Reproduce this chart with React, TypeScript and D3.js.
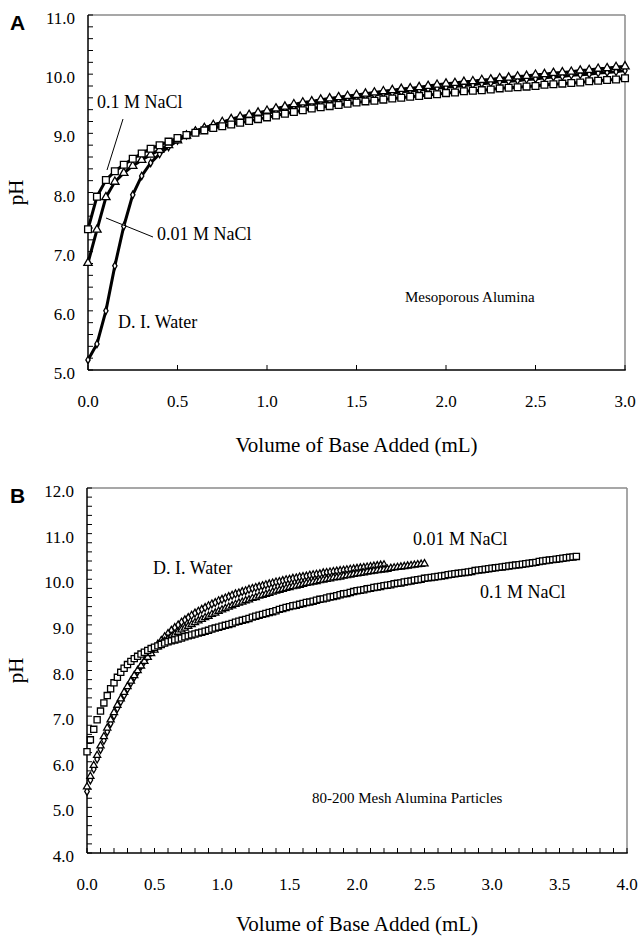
import React from 'react';
import * as d3 from 'd3';

// Panel A - mesoporous alumina, one reading every 0.05 mL
const volStepA = 0.05;
const phWaterA = [
  5.17, 5.44, 6.0, 6.76, 7.43, 7.96, 8.28, 8.5, 8.65, 8.77,
  8.88, 8.97, 9.04, 9.09, 9.14, 9.18, 9.22, 9.26, 9.29, 9.32,
  9.35, 9.38, 9.42, 9.45, 9.48, 9.5, 9.53, 9.55, 9.57, 9.59,
  9.61, 9.63, 9.65, 9.67, 9.68, 9.7, 9.72, 9.73, 9.75, 9.76,
  9.78, 9.79, 9.81, 9.82, 9.84, 9.85, 9.87, 9.88, 9.89, 9.91,
  9.92, 9.94, 9.95, 9.96, 9.98, 9.99, 10.0, 10.02, 10.03, 10.04,
  10.06,
];
const phNaCl001A = [
  6.81, 7.37, 7.92, 8.18, 8.33, 8.45, 8.55, 8.64, 8.72, 8.8,
  8.88, 8.96, 9.03, 9.09, 9.14, 9.19, 9.24, 9.28, 9.31, 9.35,
  9.38, 9.42, 9.45, 9.49, 9.52, 9.54, 9.57, 9.59, 9.61, 9.63,
  9.65, 9.67, 9.69, 9.71, 9.73, 9.75, 9.76, 9.78, 9.8, 9.82,
  9.84, 9.85, 9.87, 9.88, 9.9, 9.91, 9.93, 9.94, 9.96, 9.97,
  9.99, 10.0, 10.02, 10.03, 10.04, 10.06, 10.07, 10.09, 10.1, 10.12,
  10.13,
];
const phNaCl01A = [
  7.38, 7.93, 8.21, 8.36, 8.47, 8.57, 8.66, 8.74, 8.8, 8.86,
  8.92, 8.97, 9.01, 9.05, 9.09, 9.12, 9.15, 9.18, 9.21, 9.24,
  9.27, 9.3, 9.33, 9.36, 9.39, 9.42, 9.44, 9.46, 9.48, 9.5,
  9.52, 9.54, 9.55, 9.57, 9.59, 9.6, 9.62, 9.63, 9.65, 9.66,
  9.68, 9.69, 9.71, 9.72, 9.73, 9.74, 9.76, 9.77, 9.78, 9.79,
  9.8, 9.82, 9.83, 9.84, 9.85, 9.86, 9.88, 9.89, 9.9, 9.91,
  9.93,
];

// Panel B - 80-200 mesh particles, one reading every 0.025 mL
const volStepB = 0.025;
const phWaterB = [
  5.35, 5.6, 5.84, 6.06, 6.27, 6.47, 6.66, 6.84, 7.01, 7.17,
  7.32, 7.46, 7.6, 7.73, 7.86, 7.98, 8.1, 8.21, 8.31, 8.41,
  8.5, 8.58, 8.66, 8.74, 8.81, 8.88, 8.94, 9.0, 9.06, 9.11,
  9.16, 9.21, 9.26, 9.3, 9.34, 9.38, 9.42, 9.46, 9.49, 9.53,
  9.56, 9.59, 9.62, 9.65, 9.68, 9.7, 9.73, 9.75, 9.78, 9.8,
  9.82, 9.84, 9.86, 9.88, 9.9, 9.92, 9.94, 9.95, 9.97, 9.99,
  10.0, 10.02, 10.03, 10.05, 10.06, 10.07, 10.09, 10.1, 10.11, 10.12,
  10.14, 10.15, 10.16, 10.17, 10.18, 10.19, 10.2, 10.21, 10.22, 10.23,
  10.24, 10.25, 10.26, 10.27, 10.28, 10.29, 10.3, 10.31, 10.32,
];
const phNaCl001B = [
  5.45, 5.68, 5.92, 6.14, 6.35, 6.55, 6.74, 6.92, 7.08, 7.24,
  7.38, 7.52, 7.65, 7.77, 7.89, 8.0, 8.1, 8.2, 8.29, 8.37,
  8.45, 8.52, 8.58, 8.64, 8.69, 8.74, 8.79, 8.84, 8.89, 8.93,
  8.97, 9.01, 9.05, 9.09, 9.12, 9.16, 9.19, 9.23, 9.26, 9.3,
  9.33, 9.36, 9.39, 9.42, 9.45, 9.48, 9.5, 9.53, 9.55, 9.58,
  9.6, 9.63, 9.65, 9.67, 9.69, 9.72, 9.74, 9.76, 9.78, 9.8,
  9.82, 9.84, 9.85, 9.87, 9.89, 9.91, 9.92, 9.94, 9.95, 9.97,
  9.98, 10.0, 10.01, 10.03, 10.04, 10.05, 10.07, 10.08, 10.09, 10.11,
  10.12, 10.13, 10.14, 10.16, 10.17, 10.18, 10.19, 10.2, 10.21, 10.22,
  10.24, 10.25, 10.26, 10.27, 10.28, 10.29, 10.3, 10.31, 10.32, 10.33,
  10.34,
];
const phNaCl01B = [
  6.22, 6.48, 6.71, 6.92, 7.11, 7.29, 7.45, 7.6, 7.73, 7.85,
  7.96, 8.05, 8.13, 8.2, 8.26, 8.31, 8.36, 8.4, 8.44, 8.48,
  8.51, 8.54, 8.57, 8.6, 8.63, 8.65, 8.67, 8.69, 8.71, 8.74,
  8.76, 8.78, 8.8, 8.82, 8.84, 8.86, 8.88, 8.91, 8.93, 8.95,
  8.97, 8.99, 9.01, 9.03, 9.06, 9.08, 9.1, 9.12, 9.14, 9.17,
  9.19, 9.21, 9.23, 9.25, 9.27, 9.29, 9.31, 9.34, 9.36, 9.38,
  9.4, 9.42, 9.43, 9.45, 9.47, 9.49, 9.5, 9.52, 9.54, 9.56,
  9.57, 9.59, 9.61, 9.62, 9.64, 9.66, 9.68, 9.69, 9.71, 9.73,
  9.75, 9.76, 9.77, 9.79, 9.8, 9.82, 9.83, 9.84, 9.86, 9.87,
  9.88, 9.9, 9.91, 9.92, 9.94, 9.95, 9.96, 9.98, 9.99, 10.0,
  10.02, 10.03, 10.04, 10.05, 10.06, 10.07, 10.08, 10.1, 10.11, 10.12,
  10.13, 10.14, 10.15, 10.16, 10.17, 10.19, 10.2, 10.21, 10.22, 10.23,
  10.24, 10.25, 10.26, 10.27, 10.28, 10.29, 10.3, 10.31, 10.32, 10.33,
  10.34, 10.35, 10.36, 10.37, 10.39, 10.4, 10.41, 10.42, 10.43, 10.44,
  10.45, 10.46, 10.47, 10.48, 10.49, 10.5,
];

const serif = 'Liberation Serif, Times New Roman, serif';
const sans = 'Liberation Sans, Arial, sans-serif';

type Series = {
  ph: number[];
  step: number;
  type: d3.SymbolType;
  size: number;
};

type PanelProps = {
  label: string;
  left: number;
  right: number;
  top: number;
  bottom: number;
  xMax: number;
  yMin: number;
  yMax: number;
  xMinorStep: number;
  titleGap: number;
  drawLines: boolean;
  stroke: number;
  series: Series[];
  children?: React.ReactNode;
};

const Panel = (p: PanelProps) => {
  const x = d3.scaleLinear().domain([0, p.xMax]).range([p.left, p.right]);
  const y = d3.scaleLinear().domain([p.yMin, p.yMax]).range([p.bottom, p.top]);
  const xMajor = d3.range(0, p.xMax + 0.001, 0.5);
  const xMinor = d3.range(0, p.xMax + 0.001, p.xMinorStep);
  const yMajor = d3.range(p.yMin, p.yMax + 0.001, 1);
  const yMinor = d3.range(p.yMin, p.yMax + 0.001, 0.2);

  return (
    <g>
      <text x={10} y={p.top + 15} fontFamily={sans} fontWeight="bold" fontSize={21}>
        {p.label}
      </text>
      {/* frame: grey top/right, black axes */}
      <line x1={p.left} x2={p.right} y1={p.top} y2={p.top} stroke="#8a8a8a" strokeWidth={1.5} />
      <line x1={p.right} x2={p.right} y1={p.top} y2={p.bottom} stroke="#8a8a8a" strokeWidth={1.5} />
      <line x1={p.left} x2={p.right + 0.75} y1={p.bottom} y2={p.bottom} stroke="#000" strokeWidth={1.5} />
      <line x1={p.left} x2={p.left} y1={p.top} y2={p.bottom} stroke="#000" strokeWidth={1.5} />
      {yMinor.map((v) => (
        <line key={'ym' + v} x1={p.left} x2={p.left + 5} y1={y(v)} y2={y(v)} stroke="#000" strokeWidth={1} />
      ))}
      {xMinor.map((v) => (
        <line key={'xm' + v} x1={x(v)} x2={x(v)} y1={p.bottom} y2={p.bottom - 5} stroke="#000" strokeWidth={1} />
      ))}
      {yMajor.map((v) => (
        <text key={'yl' + v} x={p.left - 13} y={y(v) + 9} textAnchor="end" fontFamily={serif} fontSize={17}>
          {v.toFixed(1)}
        </text>
      ))}
      {xMajor.map((v) => (
        <text key={'xl' + v} x={x(v)} y={p.bottom + 37} textAnchor="middle" fontFamily={serif} fontSize={17}>
          {v.toFixed(1)}
        </text>
      ))}
      <text
        x={(p.left + p.right) / 2}
        y={p.bottom + p.titleGap}
        textAnchor="middle"
        fontFamily={serif}
        fontSize={21}
      >
        Volume of Base Added (mL)
      </text>
      <text
        transform={`translate(23, ${(p.top + p.bottom) / 2}) rotate(-90)`}
        textAnchor="middle"
        fontFamily={serif}
        fontSize={21}
      >
        pH
      </text>
      {p.series.map((s, si) => {
        const path = d3
          .line<number>()
          .x((_, i) => x(i * s.step))
          .y((d) => y(d))(s.ph);
        const sym = d3.symbol().type(s.type).size(s.size)() as string;
        return (
          <g key={'s' + si}>
            {p.drawLines && <path d={path ?? ''} fill="none" stroke="#000" strokeWidth={3} />}
            {s.ph.map((d, i) => (
              <path
                key={i}
                d={sym}
                transform={`translate(${x(i * s.step)},${y(d)})`}
                fill="#fff"
                stroke="#000"
                strokeWidth={p.stroke}
              />
            ))}
          </g>
        );
      })}
      {p.children}
    </g>
  );
};

const App = () => {
  const seriesA: Series[] = [
    { ph: phWaterA, step: volStepA, type: d3.symbolDiamond, size: 16 },
    { ph: phNaCl001A, step: volStepA, type: d3.symbolTriangle, size: 30 },
    { ph: phNaCl01A, step: volStepA, type: d3.symbolSquare, size: 46 },
  ];
  const seriesB: Series[] = [
    { ph: phWaterB, step: volStepB, type: d3.symbolDiamond, size: 18 },
    { ph: phNaCl001B, step: volStepB, type: d3.symbolTriangle, size: 22 },
    { ph: phNaCl01B, step: volStepB, type: d3.symbolSquare, size: 38 },
  ];
  return (
    <div style={{ position: 'absolute', left: 0, top: 0 }}>
      <svg width={640} height={937} style={{ display: 'block', background: '#fff' }}>
        <Panel
          label="A"
          left={88}
          right={625}
          top={15}
          bottom={370}
          xMax={3}
          yMin={5}
          yMax={11}
          xMinorStep={0.5}
          titleGap={82}
          drawLines={true}
          stroke={1.3}
          series={seriesA}
        >
          <text x={97} y={108} fontFamily={serif} fontSize={18}>0.1 M NaCl</text>
          <line x1={123} y1={119} x2={107} y2={170} stroke="#000" strokeWidth={1} />
          <text x={157} y={240} fontFamily={serif} fontSize={18}>0.01 M NaCl</text>
          <line x1={106} y1={218} x2={153} y2={237} stroke="#000" strokeWidth={1} />
          <text x={118} y={328} fontFamily={serif} fontSize={18}>D. I. Water</text>
          <text x={405} y={302} fontFamily={serif} fontSize={15}>Mesoporous Alumina</text>
        </Panel>
        <Panel
          label="B"
          left={87}
          right={627}
          top={488}
          bottom={853}
          xMax={4}
          yMin={4}
          yMax={12}
          xMinorStep={0.1}
          titleGap={78}
          drawLines={false}
          stroke={1.3}
          series={seriesB}
        >
          <text x={153} y={574} fontFamily={serif} fontSize={18}>D. I. Water</text>
          <text x={413} y={545} fontFamily={serif} fontSize={18}>0.01 M NaCl</text>
          <text x={480} y={598} fontFamily={serif} fontSize={18}>0.1 M NaCl</text>
          <text x={312} y={803} fontFamily={serif} fontSize={15}>80-200 Mesh Alumina Particles</text>
        </Panel>
      </svg>
    </div>
  );
};

export default App;
